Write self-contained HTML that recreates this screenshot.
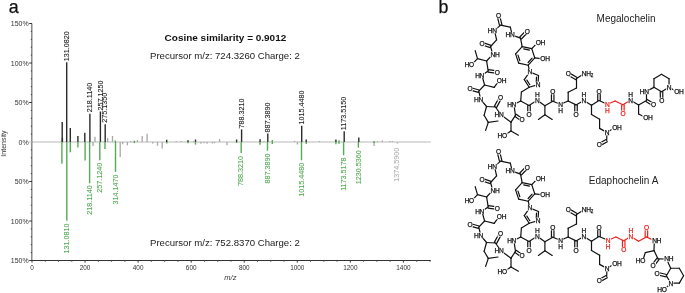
<!DOCTYPE html>
<html><head><meta charset="utf-8"><style>
html,body{margin:0;padding:0;background:#fff;}
body{width:685px;height:293px;overflow:hidden;}
svg{display:block;font-family:"Liberation Sans",sans-serif;will-change:transform;}
</style></head><body>
<svg width="685" height="293" viewBox="0 0 685 293">
<rect width="685" height="293" fill="#fff"/>
<text x="8.8" y="12.9" font-size="17.8" fill="#111" stroke="#111" stroke-width="0.25">a</text>
<text x="438.5" y="12.9" font-size="17.8" fill="#111" stroke="#111" stroke-width="0.25">b</text>
<line x1="32.0" y1="142.0" x2="430.8" y2="142.0" stroke="#d0d0d0" stroke-width="1.3"/>
<line x1="31.8" y1="23.50" x2="31.8" y2="260.50" stroke="#777" stroke-width="1.3"/>
<line x1="29.2" y1="260.50" x2="32" y2="260.50" stroke="#333" stroke-width="1"/>
<text x="28.7" y="263.00" font-size="7" text-anchor="end" fill="#333">150%</text>
<line x1="30.8" y1="252.60" x2="32" y2="252.60" stroke="#444" stroke-width="1"/>
<line x1="30.8" y1="244.70" x2="32" y2="244.70" stroke="#444" stroke-width="1"/>
<line x1="30.8" y1="236.80" x2="32" y2="236.80" stroke="#444" stroke-width="1"/>
<line x1="30.8" y1="228.90" x2="32" y2="228.90" stroke="#444" stroke-width="1"/>
<line x1="29.2" y1="221.00" x2="32" y2="221.00" stroke="#333" stroke-width="1"/>
<text x="28.7" y="223.50" font-size="7" text-anchor="end" fill="#333">100%</text>
<line x1="30.8" y1="213.10" x2="32" y2="213.10" stroke="#444" stroke-width="1"/>
<line x1="30.8" y1="205.20" x2="32" y2="205.20" stroke="#444" stroke-width="1"/>
<line x1="30.8" y1="197.30" x2="32" y2="197.30" stroke="#444" stroke-width="1"/>
<line x1="30.8" y1="189.40" x2="32" y2="189.40" stroke="#444" stroke-width="1"/>
<line x1="29.2" y1="181.50" x2="32" y2="181.50" stroke="#333" stroke-width="1"/>
<text x="28.7" y="184.00" font-size="7" text-anchor="end" fill="#333">50%</text>
<line x1="30.8" y1="173.60" x2="32" y2="173.60" stroke="#444" stroke-width="1"/>
<line x1="30.8" y1="165.70" x2="32" y2="165.70" stroke="#444" stroke-width="1"/>
<line x1="30.8" y1="157.80" x2="32" y2="157.80" stroke="#444" stroke-width="1"/>
<line x1="30.8" y1="149.90" x2="32" y2="149.90" stroke="#444" stroke-width="1"/>
<line x1="29.2" y1="142.00" x2="32" y2="142.00" stroke="#bbb" stroke-width="1"/>
<text x="28.7" y="144.50" font-size="7" text-anchor="end" fill="#333">0%</text>
<line x1="30.8" y1="134.10" x2="32" y2="134.10" stroke="#444" stroke-width="1"/>
<line x1="30.8" y1="126.20" x2="32" y2="126.20" stroke="#444" stroke-width="1"/>
<line x1="30.8" y1="118.30" x2="32" y2="118.30" stroke="#444" stroke-width="1"/>
<line x1="30.8" y1="110.40" x2="32" y2="110.40" stroke="#444" stroke-width="1"/>
<line x1="29.2" y1="102.50" x2="32" y2="102.50" stroke="#333" stroke-width="1"/>
<text x="28.7" y="105.00" font-size="7" text-anchor="end" fill="#333">50%</text>
<line x1="30.8" y1="94.60" x2="32" y2="94.60" stroke="#444" stroke-width="1"/>
<line x1="30.8" y1="86.70" x2="32" y2="86.70" stroke="#444" stroke-width="1"/>
<line x1="30.8" y1="78.80" x2="32" y2="78.80" stroke="#444" stroke-width="1"/>
<line x1="30.8" y1="70.90" x2="32" y2="70.90" stroke="#444" stroke-width="1"/>
<line x1="29.2" y1="63.00" x2="32" y2="63.00" stroke="#333" stroke-width="1"/>
<text x="28.7" y="65.50" font-size="7" text-anchor="end" fill="#333">100%</text>
<line x1="30.8" y1="55.10" x2="32" y2="55.10" stroke="#444" stroke-width="1"/>
<line x1="30.8" y1="47.20" x2="32" y2="47.20" stroke="#444" stroke-width="1"/>
<line x1="30.8" y1="39.30" x2="32" y2="39.30" stroke="#444" stroke-width="1"/>
<line x1="30.8" y1="31.40" x2="32" y2="31.40" stroke="#444" stroke-width="1"/>
<line x1="29.2" y1="23.50" x2="32" y2="23.50" stroke="#333" stroke-width="1"/>
<text x="28.7" y="26.00" font-size="7" text-anchor="end" fill="#333">150%</text>
<line x1="31.5" y1="260.5" x2="430.8" y2="260.5" stroke="#333" stroke-width="1.1"/>
<line x1="32.00" y1="260.5" x2="32.00" y2="262.6" stroke="#333" stroke-width="1"/>
<text x="32.00" y="270.2" font-size="6.4" text-anchor="middle" fill="#333">0</text>
<line x1="45.27" y1="260.5" x2="45.27" y2="261.8" stroke="#444" stroke-width="0.9"/>
<line x1="58.53" y1="260.5" x2="58.53" y2="261.8" stroke="#444" stroke-width="0.9"/>
<line x1="71.79" y1="260.5" x2="71.79" y2="261.8" stroke="#444" stroke-width="0.9"/>
<line x1="85.06" y1="260.5" x2="85.06" y2="262.6" stroke="#333" stroke-width="1"/>
<text x="85.06" y="270.2" font-size="6.4" text-anchor="middle" fill="#333">200</text>
<line x1="98.32" y1="260.5" x2="98.32" y2="261.8" stroke="#444" stroke-width="0.9"/>
<line x1="111.59" y1="260.5" x2="111.59" y2="261.8" stroke="#444" stroke-width="0.9"/>
<line x1="124.85" y1="260.5" x2="124.85" y2="261.8" stroke="#444" stroke-width="0.9"/>
<line x1="138.12" y1="260.5" x2="138.12" y2="262.6" stroke="#333" stroke-width="1"/>
<text x="138.12" y="270.2" font-size="6.4" text-anchor="middle" fill="#333">400</text>
<line x1="151.38" y1="260.5" x2="151.38" y2="261.8" stroke="#444" stroke-width="0.9"/>
<line x1="164.65" y1="260.5" x2="164.65" y2="261.8" stroke="#444" stroke-width="0.9"/>
<line x1="177.91" y1="260.5" x2="177.91" y2="261.8" stroke="#444" stroke-width="0.9"/>
<line x1="191.18" y1="260.5" x2="191.18" y2="262.6" stroke="#333" stroke-width="1"/>
<text x="191.18" y="270.2" font-size="6.4" text-anchor="middle" fill="#333">600</text>
<line x1="204.44" y1="260.5" x2="204.44" y2="261.8" stroke="#444" stroke-width="0.9"/>
<line x1="217.71" y1="260.5" x2="217.71" y2="261.8" stroke="#444" stroke-width="0.9"/>
<line x1="230.97" y1="260.5" x2="230.97" y2="261.8" stroke="#444" stroke-width="0.9"/>
<line x1="244.24" y1="260.5" x2="244.24" y2="262.6" stroke="#333" stroke-width="1"/>
<text x="244.24" y="270.2" font-size="6.4" text-anchor="middle" fill="#333">800</text>
<line x1="257.50" y1="260.5" x2="257.50" y2="261.8" stroke="#444" stroke-width="0.9"/>
<line x1="270.77" y1="260.5" x2="270.77" y2="261.8" stroke="#444" stroke-width="0.9"/>
<line x1="284.03" y1="260.5" x2="284.03" y2="261.8" stroke="#444" stroke-width="0.9"/>
<line x1="297.30" y1="260.5" x2="297.30" y2="262.6" stroke="#333" stroke-width="1"/>
<text x="297.30" y="270.2" font-size="6.4" text-anchor="middle" fill="#333">1000</text>
<line x1="310.56" y1="260.5" x2="310.56" y2="261.8" stroke="#444" stroke-width="0.9"/>
<line x1="323.83" y1="260.5" x2="323.83" y2="261.8" stroke="#444" stroke-width="0.9"/>
<line x1="337.09" y1="260.5" x2="337.09" y2="261.8" stroke="#444" stroke-width="0.9"/>
<line x1="350.36" y1="260.5" x2="350.36" y2="262.6" stroke="#333" stroke-width="1"/>
<text x="350.36" y="270.2" font-size="6.4" text-anchor="middle" fill="#333">1200</text>
<line x1="363.62" y1="260.5" x2="363.62" y2="261.8" stroke="#444" stroke-width="0.9"/>
<line x1="376.89" y1="260.5" x2="376.89" y2="261.8" stroke="#444" stroke-width="0.9"/>
<line x1="390.15" y1="260.5" x2="390.15" y2="261.8" stroke="#444" stroke-width="0.9"/>
<line x1="403.42" y1="260.5" x2="403.42" y2="262.6" stroke="#333" stroke-width="1"/>
<text x="403.42" y="270.2" font-size="6.4" text-anchor="middle" fill="#333">1400</text>
<line x1="416.68" y1="260.5" x2="416.68" y2="261.8" stroke="#444" stroke-width="0.9"/>
<line x1="429.95" y1="260.5" x2="429.95" y2="261.8" stroke="#444" stroke-width="0.9"/>
<text x="230.4" y="279.8" font-size="7.5" font-style="italic" text-anchor="middle" fill="#333">m/z</text>
<text transform="translate(6.4,143.6) rotate(-90)" font-size="7" text-anchor="middle" fill="#333">Intensity</text>
<line x1="95" y1="141.9" x2="95" y2="136.7" stroke="#a8a8a8" stroke-width="1.3"/>
<line x1="107.7" y1="141.9" x2="107.7" y2="138.1" stroke="#a8a8a8" stroke-width="1.3"/>
<line x1="112.5" y1="141.9" x2="112.5" y2="135.9" stroke="#a8a8a8" stroke-width="1.3"/>
<line x1="130.7" y1="141.9" x2="130.7" y2="141" stroke="#a8a8a8" stroke-width="1.3"/>
<line x1="137.4" y1="141.9" x2="137.4" y2="140" stroke="#a8a8a8" stroke-width="1.3"/>
<line x1="142.2" y1="141.9" x2="142.2" y2="136.1" stroke="#a8a8a8" stroke-width="1.3"/>
<line x1="147.1" y1="141.9" x2="147.1" y2="133.8" stroke="#a8a8a8" stroke-width="1.3"/>
<line x1="176.2" y1="141.9" x2="176.2" y2="141" stroke="#a8a8a8" stroke-width="1.3"/>
<line x1="181.1" y1="141.9" x2="181.1" y2="141" stroke="#a8a8a8" stroke-width="1.3"/>
<line x1="193.4" y1="141.9" x2="193.4" y2="141" stroke="#a8a8a8" stroke-width="1.3"/>
<line x1="219.6" y1="141.9" x2="219.6" y2="139.1" stroke="#a8a8a8" stroke-width="1.3"/>
<line x1="263.9" y1="141.9" x2="263.9" y2="141" stroke="#a8a8a8" stroke-width="1.3"/>
<line x1="294.5" y1="141.9" x2="294.5" y2="140.8" stroke="#a8a8a8" stroke-width="1.3"/>
<line x1="319.4" y1="141.9" x2="319.4" y2="141" stroke="#a8a8a8" stroke-width="1.3"/>
<line x1="377.5" y1="141.9" x2="377.5" y2="141" stroke="#a8a8a8" stroke-width="1.3"/>
<line x1="382.3" y1="141.9" x2="382.3" y2="140.5" stroke="#a8a8a8" stroke-width="1.3"/>
<line x1="389.8" y1="141.9" x2="389.8" y2="141" stroke="#a8a8a8" stroke-width="1.3"/>
<line x1="392.5" y1="141.9" x2="392.5" y2="141" stroke="#a8a8a8" stroke-width="1.3"/>
<line x1="297.4" y1="141.9" x2="297.4" y2="144.5" stroke="#a8a8a8" stroke-width="1.3"/>
<line x1="201" y1="141.9" x2="201" y2="143.8" stroke="#a8a8a8" stroke-width="1.3"/>
<line x1="204" y1="141.9" x2="204" y2="143.2" stroke="#a8a8a8" stroke-width="1.3"/>
<line x1="207" y1="141.9" x2="207" y2="143.8" stroke="#a8a8a8" stroke-width="1.3"/>
<line x1="212.3" y1="141.9" x2="212.3" y2="143.5" stroke="#a8a8a8" stroke-width="1.3"/>
<line x1="214.4" y1="141.9" x2="214.4" y2="143.3" stroke="#a8a8a8" stroke-width="1.3"/>
<line x1="93" y1="141.9" x2="93" y2="145.9" stroke="#a8a8a8" stroke-width="1.3"/>
<line x1="120.2" y1="141.9" x2="120.2" y2="157.1" stroke="#a8a8a8" stroke-width="1.3"/>
<line x1="122.7" y1="141.9" x2="122.7" y2="144.3" stroke="#a8a8a8" stroke-width="1.3"/>
<line x1="127.4" y1="141.9" x2="127.4" y2="145.3" stroke="#a8a8a8" stroke-width="1.3"/>
<line x1="152.7" y1="141.9" x2="152.7" y2="143.5" stroke="#a8a8a8" stroke-width="1.3"/>
<line x1="157.5" y1="141.9" x2="157.5" y2="145.8" stroke="#a8a8a8" stroke-width="1.3"/>
<line x1="162.2" y1="141.9" x2="162.2" y2="148.4" stroke="#a8a8a8" stroke-width="1.3"/>
<line x1="227" y1="141.9" x2="227" y2="145.2" stroke="#a8a8a8" stroke-width="1.3"/>
<line x1="374.1" y1="141.9" x2="374.1" y2="146" stroke="#a8a8a8" stroke-width="1.3"/>
<line x1="397.3" y1="141.9" x2="397.3" y2="143.4" stroke="#a8a8a8" stroke-width="1.3"/>
<line x1="306.2" y1="141.9" x2="306.2" y2="139.6" stroke="#2a2a2a" stroke-width="1.4"/>
<line x1="335.9" y1="141.9" x2="335.9" y2="139.6" stroke="#2a2a2a" stroke-width="1.4"/>
<line x1="62.2" y1="141.9" x2="62.2" y2="122" stroke="#2a2a2a" stroke-width="1.4"/>
<line x1="62.4" y1="141.9" x2="62.4" y2="138" stroke="#2a2a2a" stroke-width="1.4"/>
<line x1="66.7" y1="141.9" x2="66.7" y2="62.3" stroke="#2a2a2a" stroke-width="1.4"/>
<line x1="70.3" y1="141.9" x2="70.3" y2="127.9" stroke="#2a2a2a" stroke-width="1.4"/>
<line x1="77.9" y1="141.9" x2="77.9" y2="135.9" stroke="#2a2a2a" stroke-width="1.4"/>
<line x1="84.8" y1="141.9" x2="84.8" y2="132.8" stroke="#2a2a2a" stroke-width="1.4"/>
<line x1="89.9" y1="141.9" x2="89.9" y2="113.7" stroke="#2a2a2a" stroke-width="1.4"/>
<line x1="100.4" y1="141.9" x2="100.4" y2="111.5" stroke="#2a2a2a" stroke-width="1.4"/>
<line x1="105.2" y1="141.9" x2="105.2" y2="124.3" stroke="#2a2a2a" stroke-width="1.4"/>
<line x1="166.7" y1="141.9" x2="166.7" y2="139.8" stroke="#2a2a2a" stroke-width="1.4"/>
<line x1="188" y1="141.9" x2="188" y2="140.2" stroke="#2a2a2a" stroke-width="1.4"/>
<line x1="195.5" y1="141.9" x2="195.5" y2="139.5" stroke="#2a2a2a" stroke-width="1.4"/>
<line x1="236.6" y1="141.9" x2="236.6" y2="139.5" stroke="#2a2a2a" stroke-width="1.4"/>
<line x1="241.6" y1="141.9" x2="241.6" y2="129.4" stroke="#2a2a2a" stroke-width="1.4"/>
<line x1="260.1" y1="141.9" x2="260.1" y2="139.2" stroke="#2a2a2a" stroke-width="1.4"/>
<line x1="267.8" y1="141.9" x2="267.8" y2="133.6" stroke="#2a2a2a" stroke-width="1.4"/>
<line x1="301.7" y1="141.9" x2="301.7" y2="125.7" stroke="#2a2a2a" stroke-width="1.4"/>
<line x1="344.2" y1="141.9" x2="344.2" y2="131.3" stroke="#2a2a2a" stroke-width="1.4"/>
<line x1="358.8" y1="141.9" x2="358.8" y2="137.4" stroke="#2a2a2a" stroke-width="1.4"/>
<line x1="61.9" y1="141.9" x2="61.9" y2="163.8" stroke="#55aa55" stroke-width="1.4"/>
<line x1="66.8" y1="141.9" x2="66.8" y2="220.8" stroke="#55aa55" stroke-width="1.4"/>
<line x1="70.3" y1="141.9" x2="70.3" y2="152.3" stroke="#55aa55" stroke-width="1.4"/>
<line x1="77.9" y1="141.9" x2="77.9" y2="147.6" stroke="#55aa55" stroke-width="1.4"/>
<line x1="85.1" y1="141.9" x2="85.1" y2="160.5" stroke="#55aa55" stroke-width="1.4"/>
<line x1="89.6" y1="141.9" x2="89.6" y2="183.3" stroke="#55aa55" stroke-width="1.4"/>
<line x1="99.8" y1="141.9" x2="99.8" y2="160.2" stroke="#55aa55" stroke-width="1.4"/>
<line x1="105.0" y1="141.9" x2="105.0" y2="149" stroke="#55aa55" stroke-width="1.4"/>
<line x1="115.5" y1="141.9" x2="115.5" y2="171.9" stroke="#55aa55" stroke-width="1.4"/>
<line x1="134.3" y1="141.9" x2="134.3" y2="143" stroke="#55aa55" stroke-width="1.4"/>
<line x1="166.8" y1="141.9" x2="166.8" y2="143.5" stroke="#55aa55" stroke-width="1.4"/>
<line x1="188" y1="141.9" x2="188" y2="143.2" stroke="#55aa55" stroke-width="1.4"/>
<line x1="195.5" y1="141.9" x2="195.5" y2="144.6" stroke="#55aa55" stroke-width="1.4"/>
<line x1="236.6" y1="141.9" x2="236.6" y2="143" stroke="#55aa55" stroke-width="1.4"/>
<line x1="241.2" y1="141.9" x2="241.2" y2="153.1" stroke="#55aa55" stroke-width="1.4"/>
<line x1="260" y1="141.9" x2="260" y2="144.7" stroke="#55aa55" stroke-width="1.4"/>
<line x1="267.5" y1="141.9" x2="267.5" y2="150.7" stroke="#55aa55" stroke-width="1.4"/>
<line x1="272.3" y1="141.9" x2="272.3" y2="144" stroke="#55aa55" stroke-width="1.4"/>
<line x1="301.5" y1="141.9" x2="301.5" y2="160.3" stroke="#55aa55" stroke-width="1.4"/>
<line x1="306.3" y1="141.9" x2="306.3" y2="144" stroke="#55aa55" stroke-width="1.4"/>
<line x1="335.9" y1="141.9" x2="335.9" y2="144.3" stroke="#55aa55" stroke-width="1.4"/>
<line x1="339" y1="141.9" x2="339" y2="143.7" stroke="#55aa55" stroke-width="1.4"/>
<line x1="343.6" y1="141.9" x2="343.6" y2="155.3" stroke="#55aa55" stroke-width="1.4"/>
<line x1="358.4" y1="141.9" x2="358.4" y2="147.7" stroke="#55aa55" stroke-width="1.4"/>
<line x1="374" y1="141.9" x2="374" y2="143" stroke="#55aa55" stroke-width="1.4"/>
<line x1="272.3" y1="141.9" x2="272.3" y2="140" stroke="#55aa55" stroke-width="1.4"/>
<line x1="339" y1="141.9" x2="339" y2="140.2" stroke="#55aa55" stroke-width="1.4"/>
<line x1="115.3" y1="141.9" x2="115.3" y2="140.6" stroke="#55aa55" stroke-width="1.4"/>
<line x1="134.3" y1="141.9" x2="134.3" y2="140.7" stroke="#55aa55" stroke-width="1.4"/>
<line x1="374" y1="141.9" x2="374" y2="141" stroke="#55aa55" stroke-width="1.4"/>
<text transform="translate(68.8,61.3) rotate(-90)" font-size="7.2" fill="#222" stroke="#222" stroke-width="0.1">131.0820</text>
<text transform="translate(92.0,112.3) rotate(-90)" font-size="7.2" fill="#222" stroke="#222" stroke-width="0.1">218.1140</text>
<text transform="translate(102.5,110.6) rotate(-90)" font-size="7.2" fill="#222" stroke="#222" stroke-width="0.1">257.1250</text>
<text transform="translate(107.4,122.8) rotate(-90)" font-size="7.2" fill="#222" stroke="#222" stroke-width="0.1">275.1350</text>
<text transform="translate(243.7,128.4) rotate(-90)" font-size="7.2" fill="#222" stroke="#222" stroke-width="0.1">788.3210</text>
<text transform="translate(269.9,132.5) rotate(-90)" font-size="7.2" fill="#222" stroke="#222" stroke-width="0.1">887.3890</text>
<text transform="translate(303.8,124.6) rotate(-90)" font-size="7.2" fill="#222" stroke="#222" stroke-width="0.1">1015.4480</text>
<text transform="translate(346.3,130.2) rotate(-90)" font-size="7.2" fill="#222" stroke="#222" stroke-width="0.1">1173.5150</text>
<text transform="translate(68.9,223.5) rotate(-90)" font-size="7.2" fill="#55aa55" stroke="#55aa55" stroke-width="0.1" text-anchor="end">131.0810</text>
<text transform="translate(91.7,185.3) rotate(-90)" font-size="7.2" fill="#55aa55" stroke="#55aa55" stroke-width="0.1" text-anchor="end">218.1140</text>
<text transform="translate(101.9,162.7) rotate(-90)" font-size="7.2" fill="#55aa55" stroke="#55aa55" stroke-width="0.1" text-anchor="end">257.1240</text>
<text transform="translate(117.6,174.5) rotate(-90)" font-size="7.2" fill="#55aa55" stroke="#55aa55" stroke-width="0.1" text-anchor="end">314.1470</text>
<text transform="translate(243.3,156.0) rotate(-90)" font-size="7.2" fill="#55aa55" stroke="#55aa55" stroke-width="0.1" text-anchor="end">788.3210</text>
<text transform="translate(269.6,153.5) rotate(-90)" font-size="7.2" fill="#55aa55" stroke="#55aa55" stroke-width="0.1" text-anchor="end">887.3890</text>
<text transform="translate(303.6,162.7) rotate(-90)" font-size="7.2" fill="#55aa55" stroke="#55aa55" stroke-width="0.1" text-anchor="end">1015.4480</text>
<text transform="translate(345.7,157.4) rotate(-90)" font-size="7.2" fill="#55aa55" stroke="#55aa55" stroke-width="0.1" text-anchor="end">1173.5178</text>
<text transform="translate(360.5,150.2) rotate(-90)" font-size="7.2" fill="#55aa55" stroke="#55aa55" stroke-width="0.1" text-anchor="end">1230.5360</text>
<text transform="translate(399.4,147.7) rotate(-90)" font-size="7.2" fill="#b0b0b0" stroke="#b0b0b0" stroke-width="0.1" text-anchor="end">1374.5900</text>
<text x="164.6" y="41.4" font-size="9.98" font-weight="bold" fill="#111">Cosine similarity = 0.9012</text>
<text x="150" y="59" font-size="9.6" fill="#222">Precursor m/z: 724.3260 Charge: 2</text>
<text x="150" y="246.4" font-size="9.6" fill="#222">Precursor m/z: 752.8370 Charge: 2</text>
<text x="596.6" y="22" font-size="10" fill="#222">Megalochelin</text>
<text x="588.8" y="184" font-size="10" fill="#222">Edaphochelin A</text>
<g stroke-width="1.2" stroke-linecap="round" fill="none"><line x1="497.18" y1="15.79" x2="499.48" y2="25.39" stroke="#111"/>
<line x1="499.62" y1="15.21" x2="501.92" y2="24.81" stroke="#111"/>
<line x1="500.70" y1="25.10" x2="494.48" y2="30.40" stroke="#111"/>
<line x1="500.70" y1="25.10" x2="510.30" y2="27.20" stroke="#111"/>
<line x1="510.30" y1="27.20" x2="512.28" y2="35.10" stroke="#111"/>
<line x1="512.28" y1="35.10" x2="520.50" y2="38.10" stroke="#111"/>
<line x1="521.40" y1="38.97" x2="528.00" y2="32.17" stroke="#111"/>
<line x1="519.60" y1="37.23" x2="526.20" y2="30.43" stroke="#111"/>
<line x1="522.17" y1="46.58" x2="531.76" y2="48.62" stroke="#111"/>
<line x1="523.69" y1="48.85" x2="529.45" y2="50.07" stroke="#111"/>
<line x1="531.76" y1="48.62" x2="534.79" y2="57.94" stroke="#111"/>
<line x1="534.79" y1="57.94" x2="528.23" y2="65.22" stroke="#111"/>
<line x1="532.06" y1="58.12" x2="528.13" y2="62.49" stroke="#111"/>
<line x1="528.23" y1="65.22" x2="518.64" y2="63.18" stroke="#111"/>
<line x1="518.64" y1="63.18" x2="515.61" y2="53.86" stroke="#111"/>
<line x1="519.84" y1="60.73" x2="518.03" y2="55.14" stroke="#111"/>
<line x1="515.61" y1="53.86" x2="522.17" y2="46.58" stroke="#111"/>
<line x1="520.50" y1="38.10" x2="522.17" y2="46.58" stroke="#111"/>
<line x1="531.76" y1="48.62" x2="538.12" y2="42.20" stroke="#111"/>
<line x1="534.79" y1="57.94" x2="542.72" y2="58.80" stroke="#111"/>
<line x1="528.23" y1="65.22" x2="529.70" y2="71.90" stroke="#111"/>
<line x1="529.70" y1="71.90" x2="538.50" y2="75.50" stroke="#111"/>
<line x1="538.50" y1="75.50" x2="538.00" y2="84.60" stroke="#111"/>
<line x1="536.50" y1="77.22" x2="536.20" y2="82.68" stroke="#111"/>
<line x1="538.00" y1="84.60" x2="529.20" y2="87.30" stroke="#111"/>
<line x1="529.20" y1="87.30" x2="524.30" y2="79.60" stroke="#111"/>
<line x1="529.82" y1="84.74" x2="526.88" y2="80.12" stroke="#111"/>
<line x1="524.30" y1="79.60" x2="529.70" y2="71.90" stroke="#111"/>
<line x1="529.20" y1="87.30" x2="521.40" y2="92.00" stroke="#111"/>
<line x1="521.40" y1="92.00" x2="520.70" y2="101.00" stroke="#111"/>
<line x1="520.70" y1="101.00" x2="513.88" y2="104.50" stroke="#111"/>
<line x1="520.70" y1="101.00" x2="529.00" y2="105.50" stroke="#111"/>
<line x1="527.75" y1="105.50" x2="527.75" y2="114.20" stroke="#111"/>
<line x1="530.25" y1="105.50" x2="530.25" y2="114.20" stroke="#111"/>
<line x1="529.00" y1="105.50" x2="537.20" y2="100.20" stroke="#111"/>
<line x1="537.20" y1="100.20" x2="544.90" y2="105.70" stroke="#111"/>
<line x1="544.90" y1="105.70" x2="544.90" y2="114.80" stroke="#111"/>
<line x1="544.90" y1="114.80" x2="538.40" y2="119.40" stroke="#111"/>
<line x1="544.90" y1="114.80" x2="552.20" y2="119.40" stroke="#111"/>
<line x1="544.90" y1="105.70" x2="552.70" y2="101.20" stroke="#111"/>
<line x1="553.95" y1="101.20" x2="553.95" y2="91.40" stroke="#111"/>
<line x1="551.45" y1="101.20" x2="551.45" y2="91.40" stroke="#111"/>
<line x1="552.70" y1="101.20" x2="560.50" y2="104.30" stroke="#111"/>
<line x1="560.50" y1="104.30" x2="568.20" y2="101.00" stroke="#111"/>
<line x1="568.20" y1="101.00" x2="568.20" y2="92.20" stroke="#111"/>
<line x1="568.20" y1="92.20" x2="576.50" y2="88.00" stroke="#111"/>
<line x1="576.50" y1="88.00" x2="576.50" y2="78.60" stroke="#111"/>
<line x1="577.13" y1="77.52" x2="568.73" y2="72.62" stroke="#111"/>
<line x1="575.87" y1="79.68" x2="567.47" y2="74.78" stroke="#111"/>
<line x1="576.50" y1="78.60" x2="584.00" y2="73.70" stroke="#111"/>
<line x1="568.20" y1="101.00" x2="576.00" y2="104.90" stroke="#111"/>
<line x1="574.75" y1="104.90" x2="574.75" y2="114.30" stroke="#111"/>
<line x1="577.25" y1="104.90" x2="577.25" y2="114.30" stroke="#111"/>
<line x1="576.00" y1="104.90" x2="583.80" y2="100.40" stroke="#111"/>
<line x1="583.80" y1="100.40" x2="591.50" y2="105.20" stroke="#111"/>
<line x1="591.50" y1="105.20" x2="591.50" y2="114.50" stroke="#111"/>
<line x1="591.50" y1="114.50" x2="599.60" y2="119.20" stroke="#111"/>
<line x1="599.60" y1="119.20" x2="599.60" y2="128.40" stroke="#111"/>
<line x1="599.60" y1="128.40" x2="606.90" y2="132.40" stroke="#111"/>
<line x1="606.90" y1="132.40" x2="614.52" y2="127.70" stroke="#111"/>
<line x1="606.90" y1="132.40" x2="606.70" y2="140.60" stroke="#111"/>
<line x1="606.09" y1="139.51" x2="598.59" y2="143.71" stroke="#111"/>
<line x1="607.31" y1="141.69" x2="599.81" y2="145.89" stroke="#111"/>
<line x1="591.50" y1="105.20" x2="599.00" y2="100.50" stroke="#111"/>
<line x1="600.25" y1="100.50" x2="600.25" y2="91.20" stroke="#111"/>
<line x1="597.75" y1="100.50" x2="597.75" y2="91.20" stroke="#111"/>
<line x1="494.48" y1="30.40" x2="496.60" y2="39.90" stroke="#111"/>
<line x1="496.60" y1="39.90" x2="490.60" y2="46.50" stroke="#111"/>
<line x1="491.00" y1="45.32" x2="482.40" y2="42.42" stroke="#111"/>
<line x1="490.20" y1="47.68" x2="481.60" y2="44.78" stroke="#111"/>
<line x1="490.60" y1="46.50" x2="492.72" y2="54.30" stroke="#111"/>
<line x1="492.72" y1="54.30" x2="486.60" y2="61.00" stroke="#111"/>
<line x1="486.60" y1="61.00" x2="477.50" y2="58.60" stroke="#111"/>
<line x1="477.50" y1="58.60" x2="475.20" y2="50.60" stroke="#111"/>
<line x1="477.50" y1="58.60" x2="471.58" y2="64.80" stroke="#111"/>
<line x1="486.60" y1="61.00" x2="488.20" y2="70.90" stroke="#111"/>
<line x1="488.02" y1="72.14" x2="497.02" y2="73.44" stroke="#111"/>
<line x1="488.38" y1="69.66" x2="497.38" y2="70.96" stroke="#111"/>
<line x1="488.20" y1="70.90" x2="481.88" y2="75.20" stroke="#111"/>
<line x1="481.88" y1="75.20" x2="484.60" y2="85.00" stroke="#111"/>
<line x1="484.60" y1="85.00" x2="494.20" y2="87.40" stroke="#111"/>
<line x1="494.20" y1="87.40" x2="499.22" y2="80.40" stroke="#111"/>
<line x1="484.60" y1="85.00" x2="478.80" y2="91.20" stroke="#111"/>
<line x1="479.13" y1="90.00" x2="470.13" y2="87.50" stroke="#111"/>
<line x1="478.47" y1="92.40" x2="469.47" y2="89.90" stroke="#111"/>
<line x1="478.80" y1="91.20" x2="480.68" y2="99.40" stroke="#111"/>
<line x1="480.68" y1="99.40" x2="486.50" y2="106.50" stroke="#111"/>
<line x1="486.50" y1="106.50" x2="484.10" y2="115.30" stroke="#111"/>
<line x1="484.10" y1="115.30" x2="488.30" y2="122.40" stroke="#111"/>
<line x1="488.30" y1="122.40" x2="498.00" y2="121.00" stroke="#111"/>
<line x1="488.30" y1="122.40" x2="485.60" y2="130.40" stroke="#111"/>
<line x1="486.50" y1="106.50" x2="495.40" y2="107.00" stroke="#111"/>
<line x1="496.50" y1="107.60" x2="501.50" y2="98.40" stroke="#111"/>
<line x1="494.30" y1="106.40" x2="499.30" y2="97.20" stroke="#111"/>
<line x1="495.40" y1="107.00" x2="501.18" y2="115.00" stroke="#111"/>
<line x1="501.18" y1="115.00" x2="511.00" y2="122.20" stroke="#111"/>
<line x1="511.00" y1="122.20" x2="511.00" y2="131.00" stroke="#111"/>
<line x1="511.00" y1="131.00" x2="504.48" y2="135.20" stroke="#111"/>
<line x1="511.00" y1="131.00" x2="518.40" y2="135.20" stroke="#111"/>
<line x1="511.00" y1="122.20" x2="515.50" y2="115.30" stroke="#111"/>
<line x1="514.76" y1="116.31" x2="521.26" y2="121.11" stroke="#111"/>
<line x1="516.24" y1="114.29" x2="522.74" y2="119.09" stroke="#111"/>
<line x1="515.50" y1="115.30" x2="513.88" y2="104.50" stroke="#111"/>
<line x1="599.00" y1="100.50" x2="607.30" y2="104.30" stroke="#111"/>
<line x1="607.30" y1="104.30" x2="615.10" y2="101.00" stroke="#e8211c"/>
<line x1="615.10" y1="101.00" x2="622.90" y2="104.80" stroke="#e8211c"/>
<line x1="621.65" y1="104.80" x2="621.65" y2="113.50" stroke="#e8211c"/>
<line x1="624.15" y1="104.80" x2="624.15" y2="113.50" stroke="#e8211c"/>
<line x1="622.90" y1="104.80" x2="630.60" y2="100.20" stroke="#e8211c"/>
<line x1="630.60" y1="100.20" x2="638.60" y2="105.00" stroke="#111"/>
<line x1="638.60" y1="105.00" x2="638.60" y2="114.00" stroke="#111"/>
<line x1="638.60" y1="114.00" x2="645.52" y2="117.50" stroke="#111"/>
<line x1="638.60" y1="105.00" x2="646.50" y2="100.50" stroke="#111"/>
<line x1="645.85" y1="101.57" x2="652.75" y2="105.77" stroke="#111"/>
<line x1="647.15" y1="99.43" x2="654.05" y2="103.63" stroke="#111"/>
<line x1="646.50" y1="100.50" x2="646.48" y2="91.30" stroke="#111"/>
<line x1="661.50" y1="74.30" x2="669.03" y2="78.65" stroke="#111"/>
<line x1="669.03" y1="78.65" x2="669.03" y2="87.35" stroke="#111"/>
<line x1="669.03" y1="87.35" x2="661.50" y2="91.70" stroke="#111"/>
<line x1="661.50" y1="91.70" x2="653.97" y2="87.35" stroke="#111"/>
<line x1="653.97" y1="87.35" x2="653.97" y2="78.65" stroke="#111"/>
<line x1="653.97" y1="78.65" x2="661.50" y2="74.30" stroke="#111"/>
<line x1="660.25" y1="91.71" x2="660.35" y2="100.61" stroke="#111"/>
<line x1="662.75" y1="91.69" x2="662.85" y2="100.59" stroke="#111"/>
<line x1="669.03" y1="87.35" x2="676.52" y2="91.60" stroke="#111"/>
<line x1="646.48" y1="91.30" x2="653.97" y2="87.35" stroke="#111"/>
<line x1="497.18" y1="151.79" x2="499.48" y2="161.39" stroke="#111"/>
<line x1="499.62" y1="151.21" x2="501.92" y2="160.81" stroke="#111"/>
<line x1="500.70" y1="161.10" x2="494.48" y2="166.40" stroke="#111"/>
<line x1="500.70" y1="161.10" x2="510.30" y2="163.20" stroke="#111"/>
<line x1="510.30" y1="163.20" x2="512.28" y2="171.10" stroke="#111"/>
<line x1="512.28" y1="171.10" x2="520.50" y2="174.10" stroke="#111"/>
<line x1="521.40" y1="174.97" x2="528.00" y2="168.17" stroke="#111"/>
<line x1="519.60" y1="173.23" x2="526.20" y2="166.43" stroke="#111"/>
<line x1="522.17" y1="182.58" x2="531.76" y2="184.62" stroke="#111"/>
<line x1="523.69" y1="184.85" x2="529.45" y2="186.07" stroke="#111"/>
<line x1="531.76" y1="184.62" x2="534.79" y2="193.94" stroke="#111"/>
<line x1="534.79" y1="193.94" x2="528.23" y2="201.22" stroke="#111"/>
<line x1="532.06" y1="194.12" x2="528.13" y2="198.49" stroke="#111"/>
<line x1="528.23" y1="201.22" x2="518.64" y2="199.18" stroke="#111"/>
<line x1="518.64" y1="199.18" x2="515.61" y2="189.86" stroke="#111"/>
<line x1="519.84" y1="196.73" x2="518.03" y2="191.14" stroke="#111"/>
<line x1="515.61" y1="189.86" x2="522.17" y2="182.58" stroke="#111"/>
<line x1="520.50" y1="174.10" x2="522.17" y2="182.58" stroke="#111"/>
<line x1="531.76" y1="184.62" x2="538.12" y2="178.20" stroke="#111"/>
<line x1="534.79" y1="193.94" x2="542.72" y2="194.80" stroke="#111"/>
<line x1="528.23" y1="201.22" x2="529.70" y2="207.90" stroke="#111"/>
<line x1="529.70" y1="207.90" x2="538.50" y2="211.50" stroke="#111"/>
<line x1="538.50" y1="211.50" x2="538.00" y2="220.60" stroke="#111"/>
<line x1="536.50" y1="213.22" x2="536.20" y2="218.68" stroke="#111"/>
<line x1="538.00" y1="220.60" x2="529.20" y2="223.30" stroke="#111"/>
<line x1="529.20" y1="223.30" x2="524.30" y2="215.60" stroke="#111"/>
<line x1="529.82" y1="220.74" x2="526.88" y2="216.12" stroke="#111"/>
<line x1="524.30" y1="215.60" x2="529.70" y2="207.90" stroke="#111"/>
<line x1="529.20" y1="223.30" x2="521.40" y2="228.00" stroke="#111"/>
<line x1="521.40" y1="228.00" x2="520.70" y2="237.00" stroke="#111"/>
<line x1="520.70" y1="237.00" x2="513.88" y2="240.50" stroke="#111"/>
<line x1="520.70" y1="237.00" x2="529.00" y2="241.50" stroke="#111"/>
<line x1="527.75" y1="241.50" x2="527.75" y2="250.20" stroke="#111"/>
<line x1="530.25" y1="241.50" x2="530.25" y2="250.20" stroke="#111"/>
<line x1="529.00" y1="241.50" x2="537.20" y2="236.20" stroke="#111"/>
<line x1="537.20" y1="236.20" x2="544.90" y2="241.70" stroke="#111"/>
<line x1="544.90" y1="241.70" x2="544.90" y2="250.80" stroke="#111"/>
<line x1="544.90" y1="250.80" x2="538.40" y2="255.40" stroke="#111"/>
<line x1="544.90" y1="250.80" x2="552.20" y2="255.40" stroke="#111"/>
<line x1="544.90" y1="241.70" x2="552.70" y2="237.20" stroke="#111"/>
<line x1="553.95" y1="237.20" x2="553.95" y2="227.40" stroke="#111"/>
<line x1="551.45" y1="237.20" x2="551.45" y2="227.40" stroke="#111"/>
<line x1="552.70" y1="237.20" x2="560.50" y2="240.30" stroke="#111"/>
<line x1="560.50" y1="240.30" x2="568.20" y2="237.00" stroke="#111"/>
<line x1="568.20" y1="237.00" x2="568.20" y2="228.20" stroke="#111"/>
<line x1="568.20" y1="228.20" x2="576.50" y2="224.00" stroke="#111"/>
<line x1="576.50" y1="224.00" x2="576.50" y2="214.60" stroke="#111"/>
<line x1="577.13" y1="213.52" x2="568.73" y2="208.62" stroke="#111"/>
<line x1="575.87" y1="215.68" x2="567.47" y2="210.78" stroke="#111"/>
<line x1="576.50" y1="214.60" x2="584.00" y2="209.70" stroke="#111"/>
<line x1="568.20" y1="237.00" x2="576.00" y2="240.90" stroke="#111"/>
<line x1="574.75" y1="240.90" x2="574.75" y2="250.30" stroke="#111"/>
<line x1="577.25" y1="240.90" x2="577.25" y2="250.30" stroke="#111"/>
<line x1="576.00" y1="240.90" x2="583.80" y2="236.40" stroke="#111"/>
<line x1="583.80" y1="236.40" x2="591.50" y2="241.20" stroke="#111"/>
<line x1="591.50" y1="241.20" x2="591.50" y2="250.50" stroke="#111"/>
<line x1="591.50" y1="250.50" x2="599.60" y2="255.20" stroke="#111"/>
<line x1="599.60" y1="255.20" x2="599.60" y2="264.40" stroke="#111"/>
<line x1="599.60" y1="264.40" x2="606.90" y2="268.40" stroke="#111"/>
<line x1="606.90" y1="268.40" x2="614.52" y2="263.70" stroke="#111"/>
<line x1="606.90" y1="268.40" x2="606.70" y2="276.60" stroke="#111"/>
<line x1="606.09" y1="275.51" x2="598.59" y2="279.71" stroke="#111"/>
<line x1="607.31" y1="277.69" x2="599.81" y2="281.89" stroke="#111"/>
<line x1="591.50" y1="241.20" x2="599.00" y2="236.50" stroke="#111"/>
<line x1="600.25" y1="236.50" x2="600.25" y2="227.20" stroke="#111"/>
<line x1="597.75" y1="236.50" x2="597.75" y2="227.20" stroke="#111"/>
<line x1="494.48" y1="166.40" x2="496.60" y2="175.90" stroke="#111"/>
<line x1="496.60" y1="175.90" x2="490.60" y2="182.50" stroke="#111"/>
<line x1="491.00" y1="181.32" x2="482.40" y2="178.42" stroke="#111"/>
<line x1="490.20" y1="183.68" x2="481.60" y2="180.78" stroke="#111"/>
<line x1="490.60" y1="182.50" x2="492.72" y2="190.30" stroke="#111"/>
<line x1="492.72" y1="190.30" x2="486.60" y2="197.00" stroke="#111"/>
<line x1="486.60" y1="197.00" x2="477.50" y2="194.60" stroke="#111"/>
<line x1="477.50" y1="194.60" x2="475.20" y2="186.60" stroke="#111"/>
<line x1="477.50" y1="194.60" x2="471.58" y2="200.80" stroke="#111"/>
<line x1="486.60" y1="197.00" x2="488.20" y2="206.90" stroke="#111"/>
<line x1="488.02" y1="208.14" x2="497.02" y2="209.44" stroke="#111"/>
<line x1="488.38" y1="205.66" x2="497.38" y2="206.96" stroke="#111"/>
<line x1="488.20" y1="206.90" x2="481.88" y2="211.20" stroke="#111"/>
<line x1="481.88" y1="211.20" x2="484.60" y2="221.00" stroke="#111"/>
<line x1="484.60" y1="221.00" x2="494.20" y2="223.40" stroke="#111"/>
<line x1="494.20" y1="223.40" x2="499.22" y2="216.40" stroke="#111"/>
<line x1="484.60" y1="221.00" x2="478.80" y2="227.20" stroke="#111"/>
<line x1="479.13" y1="226.00" x2="470.13" y2="223.50" stroke="#111"/>
<line x1="478.47" y1="228.40" x2="469.47" y2="225.90" stroke="#111"/>
<line x1="478.80" y1="227.20" x2="480.68" y2="235.40" stroke="#111"/>
<line x1="480.68" y1="235.40" x2="486.50" y2="242.50" stroke="#111"/>
<line x1="486.50" y1="242.50" x2="484.10" y2="251.30" stroke="#111"/>
<line x1="484.10" y1="251.30" x2="488.30" y2="258.40" stroke="#111"/>
<line x1="488.30" y1="258.40" x2="498.00" y2="257.00" stroke="#111"/>
<line x1="488.30" y1="258.40" x2="485.60" y2="266.40" stroke="#111"/>
<line x1="486.50" y1="242.50" x2="495.40" y2="243.00" stroke="#111"/>
<line x1="496.50" y1="243.60" x2="501.50" y2="234.40" stroke="#111"/>
<line x1="494.30" y1="242.40" x2="499.30" y2="233.20" stroke="#111"/>
<line x1="495.40" y1="243.00" x2="501.18" y2="251.00" stroke="#111"/>
<line x1="501.18" y1="251.00" x2="511.00" y2="258.20" stroke="#111"/>
<line x1="511.00" y1="258.20" x2="511.00" y2="267.00" stroke="#111"/>
<line x1="511.00" y1="267.00" x2="504.48" y2="271.20" stroke="#111"/>
<line x1="511.00" y1="267.00" x2="518.40" y2="271.20" stroke="#111"/>
<line x1="511.00" y1="258.20" x2="515.50" y2="251.30" stroke="#111"/>
<line x1="514.76" y1="252.31" x2="521.26" y2="257.11" stroke="#111"/>
<line x1="516.24" y1="250.29" x2="522.74" y2="255.09" stroke="#111"/>
<line x1="515.50" y1="251.30" x2="513.88" y2="240.50" stroke="#111"/>
<line x1="599.00" y1="236.50" x2="608.10" y2="240.20" stroke="#111"/>
<line x1="608.10" y1="240.20" x2="615.90" y2="237.00" stroke="#e8211c"/>
<line x1="615.90" y1="237.00" x2="623.70" y2="240.70" stroke="#e8211c"/>
<line x1="622.45" y1="240.70" x2="622.45" y2="249.80" stroke="#e8211c"/>
<line x1="624.95" y1="240.70" x2="624.95" y2="249.80" stroke="#e8211c"/>
<line x1="623.70" y1="240.70" x2="630.80" y2="236.50" stroke="#e8211c"/>
<line x1="630.80" y1="236.50" x2="638.60" y2="241.20" stroke="#e8211c"/>
<line x1="638.60" y1="241.20" x2="646.40" y2="237.00" stroke="#e8211c"/>
<line x1="647.65" y1="237.00" x2="647.65" y2="227.50" stroke="#e8211c"/>
<line x1="645.15" y1="237.00" x2="645.15" y2="227.50" stroke="#e8211c"/>
<line x1="646.40" y1="237.00" x2="654.32" y2="240.60" stroke="#e8211c"/>
<line x1="654.32" y1="240.60" x2="654.00" y2="250.60" stroke="#111"/>
<line x1="654.00" y1="250.60" x2="645.30" y2="252.60" stroke="#111"/>
<line x1="645.30" y1="252.60" x2="642.68" y2="261.00" stroke="#111"/>
<line x1="654.00" y1="250.60" x2="658.00" y2="258.80" stroke="#111"/>
<line x1="657.00" y1="258.05" x2="652.00" y2="264.65" stroke="#111"/>
<line x1="659.00" y1="259.55" x2="654.00" y2="266.15" stroke="#111"/>
<line x1="658.00" y1="258.80" x2="666.52" y2="259.00" stroke="#111"/>
<line x1="670.70" y1="268.25" x2="679.30" y2="268.25" stroke="#111"/>
<line x1="679.30" y1="268.25" x2="683.60" y2="275.70" stroke="#111"/>
<line x1="683.60" y1="275.70" x2="679.30" y2="283.15" stroke="#111"/>
<line x1="679.30" y1="283.15" x2="670.70" y2="283.15" stroke="#111"/>
<line x1="670.70" y1="283.15" x2="666.40" y2="275.70" stroke="#111"/>
<line x1="666.40" y1="275.70" x2="670.70" y2="268.25" stroke="#111"/>
<line x1="666.68" y1="274.48" x2="657.28" y2="272.28" stroke="#111"/>
<line x1="666.12" y1="276.92" x2="656.72" y2="274.72" stroke="#111"/>
<line x1="670.70" y1="283.15" x2="664.28" y2="289.60" stroke="#111"/>
<line x1="666.52" y1="259.00" x2="670.70" y2="268.25" stroke="#111"/></g>
<g font-size="6.6" font-family="Liberation Sans, sans-serif" stroke-width="0.25" letter-spacing="-0.3"><rect x="495.43" y="12.63" width="5.93" height="5.75" fill="#fff"/>
<text x="498.40" y="17.88" text-anchor="middle" fill="#111" stroke="#111">O</text>
<rect x="487.03" y="27.53" width="10.33" height="5.75" fill="#fff"/>
<text x="492.20" y="32.78" text-anchor="middle" fill="#111" stroke="#111">HN</text>
<rect x="504.83" y="32.23" width="10.33" height="5.75" fill="#fff"/>
<text x="510.00" y="37.48" text-anchor="middle" fill="#111" stroke="#111">HN</text>
<rect x="524.13" y="28.43" width="5.93" height="5.75" fill="#fff"/>
<text x="527.10" y="33.68" text-anchor="middle" fill="#111" stroke="#111">O</text>
<rect x="535.05" y="39.33" width="10.70" height="5.75" fill="#fff"/>
<text x="540.40" y="44.58" text-anchor="middle" fill="#111" stroke="#111">OH</text>
<rect x="539.65" y="55.93" width="10.70" height="5.75" fill="#fff"/>
<text x="545.00" y="61.18" text-anchor="middle" fill="#111" stroke="#111">OH</text>
<rect x="526.92" y="69.03" width="5.57" height="5.75" fill="#fff"/>
<text x="529.70" y="74.28" text-anchor="middle" fill="#111" stroke="#111">N</text>
<rect x="535.22" y="81.73" width="5.57" height="5.75" fill="#fff"/>
<text x="538.00" y="86.98" text-anchor="middle" fill="#111" stroke="#111">N</text>
<rect x="506.43" y="101.63" width="10.33" height="5.75" fill="#fff"/>
<text x="511.60" y="106.88" text-anchor="middle" fill="#111" stroke="#111">HN</text>
<rect x="526.03" y="111.33" width="5.93" height="5.75" fill="#fff"/>
<text x="529.00" y="116.58" text-anchor="middle" fill="#111" stroke="#111">O</text>
<rect x="534.42" y="97.33" width="5.57" height="5.75" fill="#fff"/>
<text x="537.20" y="102.58" text-anchor="middle" fill="#111" stroke="#111">N</text>
<rect x="534.42" y="91.33" width="5.57" height="5.75" fill="#fff"/>
<text x="537.20" y="96.58" text-anchor="middle" fill="#111" stroke="#111">H</text>
<rect x="549.73" y="88.53" width="5.93" height="5.75" fill="#fff"/>
<text x="552.70" y="93.78" text-anchor="middle" fill="#111" stroke="#111">O</text>
<rect x="557.72" y="101.43" width="5.57" height="5.75" fill="#fff"/>
<text x="560.50" y="106.68" text-anchor="middle" fill="#111" stroke="#111">N</text>
<rect x="557.72" y="107.43" width="5.57" height="5.75" fill="#fff"/>
<text x="560.50" y="112.68" text-anchor="middle" fill="#111" stroke="#111">H</text>
<rect x="565.13" y="70.83" width="5.93" height="5.75" fill="#fff"/>
<text x="568.10" y="76.08" text-anchor="middle" fill="#111" stroke="#111">O</text>
<rect x="581.35" y="70.83" width="12.30" height="5.75" fill="#fff"/>
<text x="581.75" y="76.08" fill="#111" stroke="#111">NH<tspan font-size="4.62" dy="1.2">2</tspan></text>
<rect x="573.03" y="111.43" width="5.93" height="5.75" fill="#fff"/>
<text x="576.00" y="116.68" text-anchor="middle" fill="#111" stroke="#111">O</text>
<rect x="581.02" y="97.53" width="5.57" height="5.75" fill="#fff"/>
<text x="583.80" y="102.78" text-anchor="middle" fill="#111" stroke="#111">N</text>
<rect x="581.02" y="91.53" width="5.57" height="5.75" fill="#fff"/>
<text x="583.80" y="96.78" text-anchor="middle" fill="#111" stroke="#111">H</text>
<rect x="604.12" y="129.53" width="5.57" height="5.75" fill="#fff"/>
<text x="606.90" y="134.78" text-anchor="middle" fill="#111" stroke="#111">N</text>
<rect x="611.45" y="124.83" width="10.70" height="5.75" fill="#fff"/>
<text x="616.80" y="130.08" text-anchor="middle" fill="#111" stroke="#111">OH</text>
<rect x="596.23" y="141.93" width="5.93" height="5.75" fill="#fff"/>
<text x="599.20" y="147.18" text-anchor="middle" fill="#111" stroke="#111">O</text>
<rect x="596.03" y="88.33" width="5.93" height="5.75" fill="#fff"/>
<text x="599.00" y="93.58" text-anchor="middle" fill="#111" stroke="#111">O</text>
<rect x="479.03" y="40.73" width="5.93" height="5.75" fill="#fff"/>
<text x="482.00" y="45.98" text-anchor="middle" fill="#111" stroke="#111">O</text>
<rect x="489.83" y="51.43" width="10.33" height="5.75" fill="#fff"/>
<text x="495.00" y="56.68" text-anchor="middle" fill="#111" stroke="#111">NH</text>
<rect x="463.95" y="61.93" width="10.70" height="5.75" fill="#fff"/>
<text x="469.30" y="67.18" text-anchor="middle" fill="#111" stroke="#111">HO</text>
<rect x="494.23" y="69.33" width="5.93" height="5.75" fill="#fff"/>
<text x="497.20" y="74.58" text-anchor="middle" fill="#111" stroke="#111">O</text>
<rect x="474.43" y="72.33" width="10.33" height="5.75" fill="#fff"/>
<text x="479.60" y="77.58" text-anchor="middle" fill="#111" stroke="#111">HN</text>
<rect x="496.15" y="77.53" width="10.70" height="5.75" fill="#fff"/>
<text x="501.50" y="82.78" text-anchor="middle" fill="#111" stroke="#111">OH</text>
<rect x="466.83" y="85.83" width="5.93" height="5.75" fill="#fff"/>
<text x="469.80" y="91.08" text-anchor="middle" fill="#111" stroke="#111">O</text>
<rect x="473.23" y="96.53" width="10.33" height="5.75" fill="#fff"/>
<text x="478.40" y="101.78" text-anchor="middle" fill="#111" stroke="#111">HN</text>
<rect x="497.43" y="94.93" width="5.93" height="5.75" fill="#fff"/>
<text x="500.40" y="100.18" text-anchor="middle" fill="#111" stroke="#111">O</text>
<rect x="493.73" y="112.13" width="10.33" height="5.75" fill="#fff"/>
<text x="498.90" y="117.38" text-anchor="middle" fill="#111" stroke="#111">HN</text>
<rect x="496.85" y="132.33" width="10.70" height="5.75" fill="#fff"/>
<text x="502.20" y="137.58" text-anchor="middle" fill="#111" stroke="#111">HO</text>
<rect x="519.03" y="117.23" width="5.93" height="5.75" fill="#fff"/>
<text x="522.00" y="122.48" text-anchor="middle" fill="#111" stroke="#111">O</text>
<rect x="604.52" y="101.43" width="5.57" height="5.75" fill="#fff"/>
<text x="607.30" y="106.68" text-anchor="middle" fill="#e8211c" stroke="#e8211c">N</text>
<rect x="604.52" y="107.43" width="5.57" height="5.75" fill="#fff"/>
<text x="607.30" y="112.68" text-anchor="middle" fill="#e8211c" stroke="#e8211c">H</text>
<rect x="619.93" y="110.63" width="5.93" height="5.75" fill="#fff"/>
<text x="622.90" y="115.88" text-anchor="middle" fill="#e8211c" stroke="#e8211c">O</text>
<rect x="627.82" y="97.33" width="5.57" height="5.75" fill="#fff"/>
<text x="630.60" y="102.58" text-anchor="middle" fill="#111" stroke="#111">N</text>
<rect x="627.82" y="91.33" width="5.57" height="5.75" fill="#fff"/>
<text x="630.60" y="96.58" text-anchor="middle" fill="#111" stroke="#111">H</text>
<rect x="642.45" y="114.63" width="10.70" height="5.75" fill="#fff"/>
<text x="647.80" y="119.88" text-anchor="middle" fill="#111" stroke="#111">OH</text>
<rect x="650.43" y="101.83" width="5.93" height="5.75" fill="#fff"/>
<text x="653.40" y="107.08" text-anchor="middle" fill="#111" stroke="#111">O</text>
<rect x="639.03" y="88.43" width="10.33" height="5.75" fill="#fff"/>
<text x="644.20" y="93.68" text-anchor="middle" fill="#111" stroke="#111">HN</text>
<rect x="666.25" y="84.48" width="5.57" height="5.75" fill="#fff"/>
<text x="669.03" y="89.73" text-anchor="middle" fill="#111" stroke="#111">N</text>
<rect x="658.63" y="97.73" width="5.93" height="5.75" fill="#fff"/>
<text x="661.60" y="102.98" text-anchor="middle" fill="#111" stroke="#111">O</text>
<rect x="673.45" y="88.73" width="10.70" height="5.75" fill="#fff"/>
<text x="678.80" y="93.98" text-anchor="middle" fill="#111" stroke="#111">OH</text>
<rect x="495.43" y="148.63" width="5.93" height="5.75" fill="#fff"/>
<text x="498.40" y="153.88" text-anchor="middle" fill="#111" stroke="#111">O</text>
<rect x="487.03" y="163.53" width="10.33" height="5.75" fill="#fff"/>
<text x="492.20" y="168.78" text-anchor="middle" fill="#111" stroke="#111">HN</text>
<rect x="504.83" y="168.23" width="10.33" height="5.75" fill="#fff"/>
<text x="510.00" y="173.48" text-anchor="middle" fill="#111" stroke="#111">HN</text>
<rect x="524.13" y="164.43" width="5.93" height="5.75" fill="#fff"/>
<text x="527.10" y="169.68" text-anchor="middle" fill="#111" stroke="#111">O</text>
<rect x="535.05" y="175.33" width="10.70" height="5.75" fill="#fff"/>
<text x="540.40" y="180.58" text-anchor="middle" fill="#111" stroke="#111">OH</text>
<rect x="539.65" y="191.93" width="10.70" height="5.75" fill="#fff"/>
<text x="545.00" y="197.18" text-anchor="middle" fill="#111" stroke="#111">OH</text>
<rect x="526.92" y="205.03" width="5.57" height="5.75" fill="#fff"/>
<text x="529.70" y="210.28" text-anchor="middle" fill="#111" stroke="#111">N</text>
<rect x="535.22" y="217.73" width="5.57" height="5.75" fill="#fff"/>
<text x="538.00" y="222.98" text-anchor="middle" fill="#111" stroke="#111">N</text>
<rect x="506.43" y="237.63" width="10.33" height="5.75" fill="#fff"/>
<text x="511.60" y="242.88" text-anchor="middle" fill="#111" stroke="#111">HN</text>
<rect x="526.03" y="247.33" width="5.93" height="5.75" fill="#fff"/>
<text x="529.00" y="252.58" text-anchor="middle" fill="#111" stroke="#111">O</text>
<rect x="534.42" y="233.33" width="5.57" height="5.75" fill="#fff"/>
<text x="537.20" y="238.58" text-anchor="middle" fill="#111" stroke="#111">N</text>
<rect x="534.42" y="227.33" width="5.57" height="5.75" fill="#fff"/>
<text x="537.20" y="232.58" text-anchor="middle" fill="#111" stroke="#111">H</text>
<rect x="549.73" y="224.53" width="5.93" height="5.75" fill="#fff"/>
<text x="552.70" y="229.78" text-anchor="middle" fill="#111" stroke="#111">O</text>
<rect x="557.72" y="237.43" width="5.57" height="5.75" fill="#fff"/>
<text x="560.50" y="242.68" text-anchor="middle" fill="#111" stroke="#111">N</text>
<rect x="557.72" y="243.43" width="5.57" height="5.75" fill="#fff"/>
<text x="560.50" y="248.68" text-anchor="middle" fill="#111" stroke="#111">H</text>
<rect x="565.13" y="206.83" width="5.93" height="5.75" fill="#fff"/>
<text x="568.10" y="212.08" text-anchor="middle" fill="#111" stroke="#111">O</text>
<rect x="581.35" y="206.83" width="12.30" height="5.75" fill="#fff"/>
<text x="581.75" y="212.08" fill="#111" stroke="#111">NH<tspan font-size="4.62" dy="1.2">2</tspan></text>
<rect x="573.03" y="247.43" width="5.93" height="5.75" fill="#fff"/>
<text x="576.00" y="252.68" text-anchor="middle" fill="#111" stroke="#111">O</text>
<rect x="581.02" y="233.53" width="5.57" height="5.75" fill="#fff"/>
<text x="583.80" y="238.78" text-anchor="middle" fill="#111" stroke="#111">N</text>
<rect x="581.02" y="227.53" width="5.57" height="5.75" fill="#fff"/>
<text x="583.80" y="232.78" text-anchor="middle" fill="#111" stroke="#111">H</text>
<rect x="604.12" y="265.53" width="5.57" height="5.75" fill="#fff"/>
<text x="606.90" y="270.78" text-anchor="middle" fill="#111" stroke="#111">N</text>
<rect x="611.45" y="260.83" width="10.70" height="5.75" fill="#fff"/>
<text x="616.80" y="266.08" text-anchor="middle" fill="#111" stroke="#111">OH</text>
<rect x="596.23" y="277.93" width="5.93" height="5.75" fill="#fff"/>
<text x="599.20" y="283.18" text-anchor="middle" fill="#111" stroke="#111">O</text>
<rect x="596.03" y="224.33" width="5.93" height="5.75" fill="#fff"/>
<text x="599.00" y="229.58" text-anchor="middle" fill="#111" stroke="#111">O</text>
<rect x="479.03" y="176.73" width="5.93" height="5.75" fill="#fff"/>
<text x="482.00" y="181.98" text-anchor="middle" fill="#111" stroke="#111">O</text>
<rect x="489.83" y="187.43" width="10.33" height="5.75" fill="#fff"/>
<text x="495.00" y="192.68" text-anchor="middle" fill="#111" stroke="#111">NH</text>
<rect x="463.95" y="197.93" width="10.70" height="5.75" fill="#fff"/>
<text x="469.30" y="203.18" text-anchor="middle" fill="#111" stroke="#111">HO</text>
<rect x="494.23" y="205.33" width="5.93" height="5.75" fill="#fff"/>
<text x="497.20" y="210.58" text-anchor="middle" fill="#111" stroke="#111">O</text>
<rect x="474.43" y="208.33" width="10.33" height="5.75" fill="#fff"/>
<text x="479.60" y="213.58" text-anchor="middle" fill="#111" stroke="#111">HN</text>
<rect x="496.15" y="213.53" width="10.70" height="5.75" fill="#fff"/>
<text x="501.50" y="218.78" text-anchor="middle" fill="#111" stroke="#111">OH</text>
<rect x="466.83" y="221.83" width="5.93" height="5.75" fill="#fff"/>
<text x="469.80" y="227.08" text-anchor="middle" fill="#111" stroke="#111">O</text>
<rect x="473.23" y="232.53" width="10.33" height="5.75" fill="#fff"/>
<text x="478.40" y="237.78" text-anchor="middle" fill="#111" stroke="#111">HN</text>
<rect x="497.43" y="230.93" width="5.93" height="5.75" fill="#fff"/>
<text x="500.40" y="236.18" text-anchor="middle" fill="#111" stroke="#111">O</text>
<rect x="493.73" y="248.13" width="10.33" height="5.75" fill="#fff"/>
<text x="498.90" y="253.38" text-anchor="middle" fill="#111" stroke="#111">HN</text>
<rect x="496.85" y="268.33" width="10.70" height="5.75" fill="#fff"/>
<text x="502.20" y="273.58" text-anchor="middle" fill="#111" stroke="#111">HO</text>
<rect x="519.03" y="253.23" width="5.93" height="5.75" fill="#fff"/>
<text x="522.00" y="258.48" text-anchor="middle" fill="#111" stroke="#111">O</text>
<rect x="605.32" y="237.33" width="5.57" height="5.75" fill="#fff"/>
<text x="608.10" y="242.58" text-anchor="middle" fill="#e8211c" stroke="#e8211c">N</text>
<rect x="605.32" y="243.33" width="5.57" height="5.75" fill="#fff"/>
<text x="608.10" y="248.58" text-anchor="middle" fill="#e8211c" stroke="#e8211c">H</text>
<rect x="620.73" y="246.93" width="5.93" height="5.75" fill="#fff"/>
<text x="623.70" y="252.18" text-anchor="middle" fill="#e8211c" stroke="#e8211c">O</text>
<rect x="628.02" y="233.63" width="5.57" height="5.75" fill="#fff"/>
<text x="630.80" y="238.88" text-anchor="middle" fill="#e8211c" stroke="#e8211c">N</text>
<rect x="628.02" y="227.63" width="5.57" height="5.75" fill="#fff"/>
<text x="630.80" y="232.88" text-anchor="middle" fill="#e8211c" stroke="#e8211c">H</text>
<rect x="643.43" y="224.63" width="5.93" height="5.75" fill="#fff"/>
<text x="646.40" y="229.88" text-anchor="middle" fill="#e8211c" stroke="#e8211c">O</text>
<rect x="651.43" y="237.73" width="10.33" height="5.75" fill="#fff"/>
<text x="656.60" y="242.98" text-anchor="middle" fill="#111" stroke="#111">NH</text>
<rect x="635.05" y="258.13" width="10.70" height="5.75" fill="#fff"/>
<text x="640.40" y="263.38" text-anchor="middle" fill="#111" stroke="#111">HO</text>
<rect x="650.03" y="262.53" width="5.93" height="5.75" fill="#fff"/>
<text x="653.00" y="267.78" text-anchor="middle" fill="#111" stroke="#111">O</text>
<rect x="663.63" y="256.13" width="10.33" height="5.75" fill="#fff"/>
<text x="668.80" y="261.38" text-anchor="middle" fill="#111" stroke="#111">NH</text>
<rect x="667.92" y="280.27" width="5.57" height="5.75" fill="#fff"/>
<text x="670.70" y="285.52" text-anchor="middle" fill="#111" stroke="#111">N</text>
<rect x="654.03" y="270.63" width="5.93" height="5.75" fill="#fff"/>
<text x="657.00" y="275.88" text-anchor="middle" fill="#111" stroke="#111">O</text>
<rect x="656.65" y="286.73" width="10.70" height="5.75" fill="#fff"/>
<text x="662.00" y="291.98" text-anchor="middle" fill="#111" stroke="#111">HO</text></g>
</svg>
</body></html>
